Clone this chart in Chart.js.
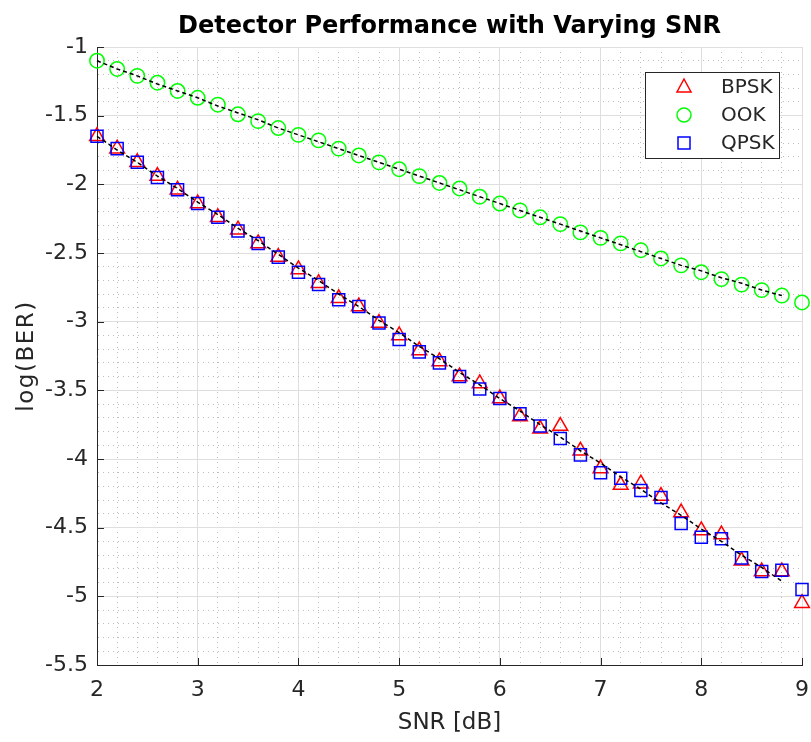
<!DOCTYPE html>
<html>
<head>
<meta charset="utf-8">
<script src="https://cdn.jsdelivr.net/npm/chart.js@4.4.1/dist/chart.umd.min.js"></script>
<style>
html,body{margin:0;padding:0;background:#ffffff;}
#wrap{position:relative;width:811px;height:742px;}
</style>
</head>
<body>
<div id="wrap"><canvas id="c" width="811" height="742"></canvas></div>
<script>
// ---- data ----
const snr = [2.0,2.2,2.4,2.6,2.8,3.0,3.2,3.4,3.6,3.8,4.0,4.2,4.4,4.6,4.8,5.0,5.2,5.4,5.6,5.8,6.0,6.2,6.4,6.6,6.8,7.0,7.2,7.4,7.6,7.8,8.0,8.2,8.4,8.6,8.8,9.0];
const bpsk = [-1.65,-1.74,-1.84,-1.94,-2.04,-2.14,-2.24,-2.33,-2.43,-2.53,-2.62,-2.72,-2.83,-2.89,-3.01,-3.10,-3.21,-3.29,-3.40,-3.45,-3.56,-3.69,-3.78,-3.76,-3.94,-4.07,-4.19,-4.18,-4.27,-4.39,-4.52,-4.55,-4.74,-4.82,-4.82,-5.05];
const ook  = [-1.10,-1.16,-1.21,-1.26,-1.32,-1.37,-1.42,-1.49,-1.54,-1.59,-1.64,-1.68,-1.74,-1.79,-1.84,-1.89,-1.94,-1.99,-2.03,-2.09,-2.14,-2.19,-2.24,-2.29,-2.35,-2.39,-2.43,-2.48,-2.54,-2.59,-2.64,-2.69,-2.73,-2.77,-2.81,-2.86];
const qpsk = [-1.65,-1.74,-1.84,-1.95,-2.04,-2.14,-2.24,-2.34,-2.43,-2.53,-2.64,-2.73,-2.84,-2.89,-3.01,-3.13,-3.22,-3.30,-3.40,-3.49,-3.56,-3.67,-3.76,-3.85,-3.97,-4.10,-4.14,-4.23,-4.28,-4.47,-4.57,-4.58,-4.72,-4.82,-4.81,-4.95];
const fitSnr = [2.0,2.2,2.4,2.6,2.8,3.0,3.2,3.4,3.6,3.8,4.0,4.2,4.4,4.6,4.8,5.0,5.2,5.4,5.6,5.8,6.0,6.2,6.4,6.6,6.8,7.0,7.2,7.4,7.6,7.8,8.0,8.2,8.4,8.6,8.8];
const fitPsk = [-1.65,-1.75,-1.84,-1.94,-2.03,-2.13,-2.22,-2.32,-2.41,-2.51,-2.61,-2.70,-2.80,-2.89,-2.99,-3.08,-3.18,-3.27,-3.37,-3.46,-3.56,-3.65,-3.75,-3.84,-3.94,-4.03,-4.13,-4.22,-4.32,-4.41,-4.51,-4.60,-4.70,-4.79,-4.89];
const fitOok = [-1.10,-1.16,-1.21,-1.27,-1.32,-1.37,-1.43,-1.48,-1.53,-1.59,-1.64,-1.69,-1.74,-1.79,-1.84,-1.89,-1.94,-1.99,-2.04,-2.09,-2.14,-2.19,-2.24,-2.29,-2.34,-2.39,-2.44,-2.49,-2.54,-2.59,-2.63,-2.68,-2.72,-2.77,-2.81];
const xTickLabels = [2,3,4,5,6,7,8,9];
const yTickLabels = [-1,-1.5,-2,-2.5,-3,-3.5,-4,-4.5,-5,-5.5];
const seriesNames = ['BPSK','OOK','QPSK'];
const titleText = 'Detector Performance with Varying SNR';
const xTitle = 'SNR [dB]';
const yTitle = 'log(BER)';

const pts = (xs, ys) => xs.map((x, i) => ({x: x, y: ys[i]}));
const near = (v, list) => list.some(t => Math.abs(t - v) < 1e-6);
const FONT = '"DejaVu Sans",sans-serif';
const AXC = '#262626';
const MAJ = '#dedede';
const MIN = '#bdbdbd';

const isMajor = (ctx, list) => ctx && ctx.tick && near(ctx.tick.value, list);

const decor = {
  id: 'decor',
  afterDraw(chart) {
    const c = chart.ctx, a = chart.chartArea;
    const xs = chart.scales.x, ys = chart.scales.y;
    c.save();
    // inward tick marks
    c.strokeStyle = AXC; c.lineWidth = 1;
    c.beginPath();
    xTickLabels.forEach(v => { const px = Math.round(xs.getPixelForValue(v)) + 0.5; c.moveTo(px, a.bottom); c.lineTo(px, a.bottom - 7); });
    yTickLabels.forEach(v => { const py = Math.round(ys.getPixelForValue(v)) + 0.5; c.moveTo(a.left, py); c.lineTo(a.left + 7, py); });
    c.stroke();
    // title
    c.fillStyle = '#000';
    c.font = 'bold 24px "DejaVu Sans",sans-serif';
    c.textAlign = 'center'; c.textBaseline = 'alphabetic';
    c.fillText(titleText, (a.left + a.right) / 2, 33);
    // axis titles
    c.fillStyle = AXC;
    c.font = '23px ' + FONT;
    c.fillText(xTitle, (a.left + a.right) / 2, 729);
    c.save();
    c.translate(33, (a.top + a.bottom) / 2);
    c.rotate(-Math.PI / 2);
    try { c.letterSpacing = '1.5px'; } catch (e) {}
    c.fillText(yTitle, 0, 0);
    c.restore();
    // legend
    const L = {x: 645, y: 72, w: 134, h: 86};
    c.fillStyle = '#fff';
    c.fillRect(L.x, L.y, L.w, L.h);
    c.strokeStyle = AXC; c.lineWidth = 1;
    c.strokeRect(L.x + 0.5, L.y + 0.5, L.w, L.h);
    const rows = [87, 115, 143];
    const mx = 684;
    c.lineWidth = 1.5;
    c.strokeStyle = '#ff0000';
    c.beginPath(); c.moveTo(mx, rows[0] - 8); c.lineTo(mx + 7, rows[0] + 5); c.lineTo(mx - 7, rows[0] + 5); c.closePath(); c.stroke();
    c.strokeStyle = '#00ff00';
    c.beginPath(); c.arc(mx, rows[1], 7, 0, Math.PI * 2); c.stroke();
    c.strokeStyle = '#0000ff';
    c.strokeRect(mx - 6, rows[2] - 6, 12, 12);
    c.fillStyle = AXC;
    c.font = '20px ' + FONT;
    c.textAlign = 'left'; c.textBaseline = 'middle';
    seriesNames.forEach((n, i) => c.fillText(n, 721, rows[i] + 1));
    c.restore();
  }
};

new Chart(document.getElementById('c'), {
  type: 'scatter',
  data: {
    datasets: [
      {label: 'fitPsk', data: pts(fitSnr, fitPsk), showLine: true, pointRadius: 0, borderColor: '#000', borderWidth: 1.5, borderDash: [4, 3], order: 0, clip: false},
      {label: 'fitOok', data: pts(fitSnr, fitOok), showLine: true, pointRadius: 0, borderColor: '#000', borderWidth: 1.5, borderDash: [4, 3], order: 0, clip: false},
      {label: seriesNames[2], data: pts(snr, qpsk), pointStyle: 'rect', pointRadius: 8.5, borderColor: '#0000ff', backgroundColor: 'rgba(0,0,0,0)', pointBorderWidth: 1.5, order: 1, clip: false},
      {label: seriesNames[1], data: pts(snr, ook), pointStyle: 'circle', pointRadius: 7.2, borderColor: '#00ff00', backgroundColor: 'rgba(0,0,0,0)', pointBorderWidth: 1.5, order: 2, clip: false},
      {label: seriesNames[0], data: pts(snr, bpsk), pointStyle: 'triangle', pointRadius: 8.5, borderColor: '#ff0000', backgroundColor: 'rgba(0,0,0,0)', pointBorderWidth: 1.5, order: 3, clip: false}
    ]
  },
  options: {
    responsive: false,
    animation: false,
    events: [],
    layout: {padding: {top: 47, right: 9, left: 0, bottom: 0}, autoPadding: false},
    plugins: {legend: {display: false}, tooltip: {enabled: false}, title: {display: false}},
    scales: {
      x: {
        type: 'linear', min: 2, max: 9,
        afterFit: s => { s.height = 77; s.paddingLeft = 0; s.paddingRight = 0; },
        ticks: {
          stepSize: 0.2, autoSkip: false, maxRotation: 0, padding: 12,
          color: AXC, font: {family: FONT, size: 22},
          callback: v => near(v, xTickLabels) ? String(Math.round(v)) : ''
        },
        grid: {drawTicks: false, lineWidth: 1, color: c => isMajor(c, xTickLabels) ? MAJ : MIN},
        border: {display: true, color: AXC, width: 1, dash: c => (c && c.tick && !near(c.tick.value, xTickLabels)) ? [1, 4] : []}
      },
      y: {
        type: 'linear', min: -5.5, max: -1,
        afterFit: s => { s.width = 97; s.paddingTop = 0; s.paddingBottom = 0; },
        ticks: {
          stepSize: 0.1, autoSkip: false, padding: 9,
          color: AXC, font: {family: FONT, size: 22},
          callback: v => near(v, yTickLabels) ? String(Math.round(v * 10) / 10) : ''
        },
        grid: {drawTicks: false, lineWidth: 1, color: c => isMajor(c, yTickLabels) ? MAJ : MIN},
        border: {display: true, color: AXC, width: 1, dash: c => (c && c.tick && !near(c.tick.value, yTickLabels)) ? [1, 4] : []}
      }
    }
  },
  plugins: [decor]
});
</script>
</body>
</html>
